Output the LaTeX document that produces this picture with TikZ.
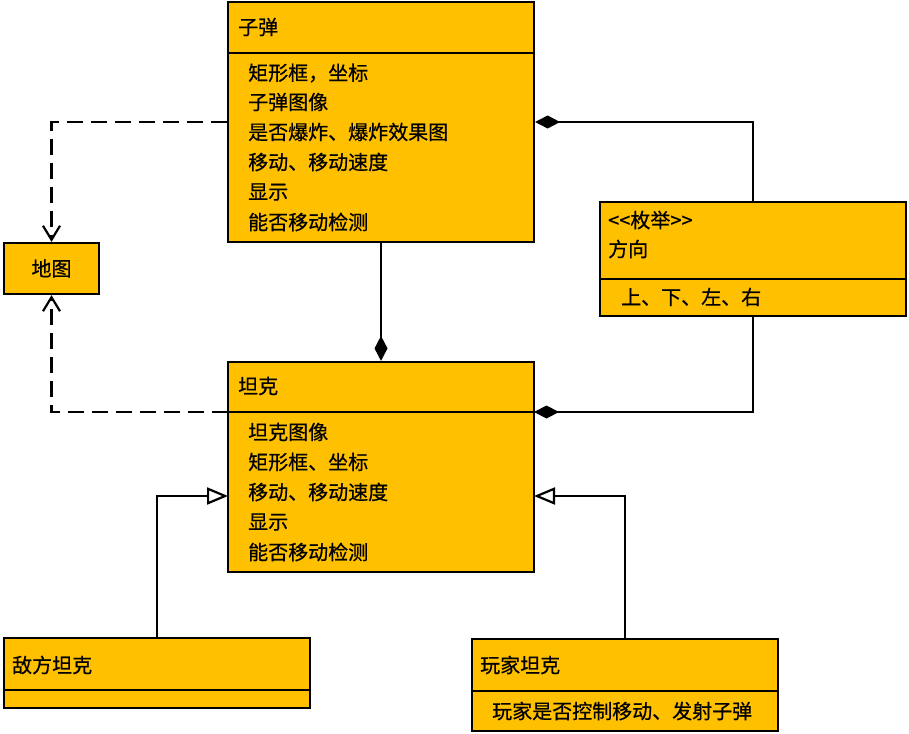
\documentclass[tikz,border=0pt]{standalone}
\usepackage{fontspec}
\newfontfamily\cjk[FakeBold=0.6]{Noto Sans CJK SC}
\usetikzlibrary{arrows.meta}
\definecolor{boxgold}{HTML}{FFC000}

\begin{document}
\begin{tikzpicture}[x=1pt, y=-1pt,
	cls/.style={draw, fill=boxgold, line width=2.2pt, inner sep=0pt, font=\cjk\fontsize{20}{24}\selectfont},
	txt/.style={anchor=west, inner sep=0pt, font=\cjk\fontsize{20}{24}\selectfont},
	sep/.style={line width=2.2pt},
	dep/.style={line width=2.2pt, dash pattern=on 16pt off 8pt, -{Straight Barb[length=14pt,width=17pt]}},
	comp/.style={line width=2.2pt, -{Diamond[length=25pt,width=13pt]}},
	inh/.style={line width=2.2pt, -{Triangle[open,fill=white,length=21pt,width=17pt]}}]
			%%%%% START %%%%%
			
			\useasboundingbox (0, 0) rectangle (909, 733);
			
			\node[cls, minimum width=306, minimum height=240] (bullet) at (381, 122) {};
			\draw[sep] (228, 53) -- (534, 53);
			\node[txt] (bullet-t) at (238, 27) {子弹};
			\node[txt] (bullet-a1) at (248, 73) {矩形框，坐标};
			\node[txt] (bullet-a2) at (248, 102) {子弹图像};
			\node[txt] (bullet-a3) at (248, 132) {是否爆炸、爆炸效果图};
			\node[txt] (bullet-a4) at (248, 162) {移动、移动速度};
			\node[txt] (bullet-a5) at (248, 192) {显示};
			\node[txt] (bullet-a6) at (248, 222) {能否移动检测};
			
			\node[cls, minimum width=95, minimum height=51] (map) at (51.5, 268.5) {地图};
			
			\node[cls, minimum width=306, minimum height=210] (tank) at (381, 467) {};
			\draw[sep] (228, 412) -- (534, 412);
			\node[txt] (tank-t) at (238, 386) {坦克};
			\node[txt] (tank-a1) at (248, 432) {坦克图像};
			\node[txt] (tank-a2) at (248, 462) {矩形框、坐标};
			\node[txt] (tank-a3) at (248, 492) {移动、移动速度};
			\node[txt] (tank-a4) at (248, 522) {显示};
			\node[txt] (tank-a5) at (248, 552) {能否移动检测};
			\coordinate (tank-sepw) at (228, 412);
			\coordinate (tank-sepe) at (534, 412);
			\coordinate (tank-l) at (228, 496);
			\coordinate (tank-r) at (534, 496);
			
			\node[cls, minimum width=306, minimum height=114] (enum) at (753, 259) {};
			\draw[sep] (600, 279) -- (906, 279);
			\node[txt] (enum-s) at (608, 220) {<{}<枚举>{}>};
			\node[txt] (enum-t) at (608, 249) {方向};
			\node[txt] (enum-a1) at (621, 297) {上、下、左、右};
			
			\node[cls, minimum width=306, minimum height=70] (enemy) at (157, 673) {};
			\draw[sep] (4, 690) -- (310, 690);
			\node[txt] (enemy-t) at (12, 665) {敌方坦克};
			
			\node[cls, minimum width=306, minimum height=92] (player) at (625, 685) {};
			\draw[sep] (472, 691) -- (778, 691);
			\node[txt] (player-t) at (480, 665) {玩家坦克};
			\node[txt] (player-a1) at (492, 711) {玩家是否控制移动、发射子弹};
			
			\draw[dep] (bullet.west) -| (map.north);
			\draw[dep] (tank-sepw) -| (map.south);
			
			\draw[comp] (bullet.south) -- (tank.north);
			\draw[comp] (enum.north) |- (bullet.east);
			\draw[comp] (enum.south) |- (tank-sepe);
			
			\draw[inh] (enemy.north) |- (tank-l);
			\draw[inh] (player.north) |- (tank-r);
			
			%%%%% END %%%%%
		\end{tikzpicture}
\end{document}
